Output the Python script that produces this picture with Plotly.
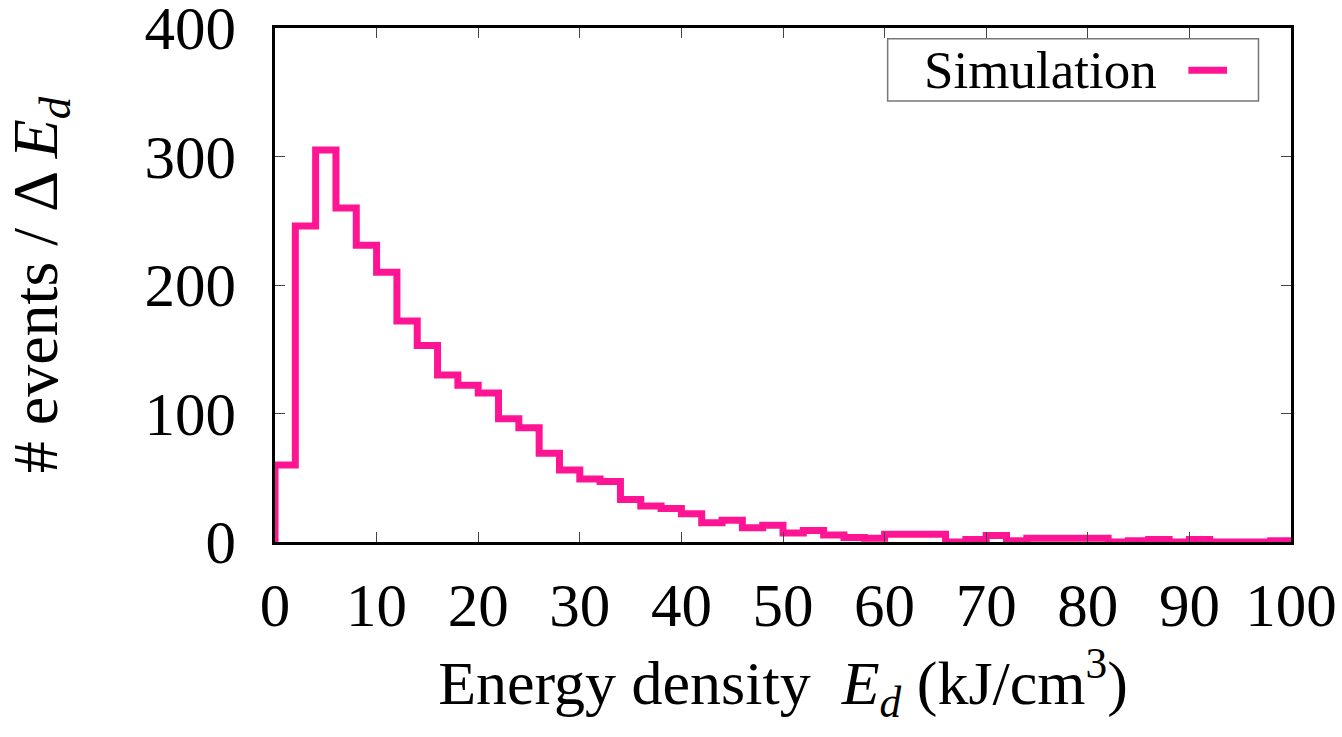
import plotly.graph_objects as go

# Histogram of deposited energy density, 2 kJ/cm^3 bins from 0 to 100
bin_edges = list(range(0, 102, 2))
counts = [
    60, 246, 305, 260, 231, 210, 172, 153, 130, 122,
    116, 96, 89, 69, 56, 49, 47, 33, 28, 26,
    22, 15, 17, 11, 13, 7, 9, 5.5, 3.5, 3,
    6, 6, 6, 0, 2, 5, 1, 3, 3, 3,
    3, 0, 1, 2, 0, 2, 0, 0, 0, 1,
]
x_ticks = list(range(0, 101, 10))
y_ticks = [0, 100, 200, 300, 400]

series_name = "Simulation"
pink = "#ff1493"
font_family = "Liberation Serif"

# Step outline: rise from zero at the first edge, then one level per bin
step_x = [bin_edges[0]] + bin_edges
step_y = [0] + counts + [counts[-1]]

fig = go.Figure()
fig.add_trace(go.Scatter(
    x=step_x,
    y=step_y,
    mode="lines",
    line=dict(color=pink, width=7, shape="hv"),
    name=series_name,
    showlegend=False,
    hoverinfo="skip",
))

axis_common = dict(
    showgrid=False,
    zeroline=False,
    showline=True,
    linecolor="black",
    linewidth=2.5,
    mirror="allticks",
    ticks="inside",
    ticklen=10,
    tickwidth=1,
    tickcolor="#444",
    automargin=False,
    ticklabeloverflow="allow",
    tickfont=dict(family=font_family, size=61, color="black"),
)

fig.update_xaxes(
    range=[0, 100],
    tickvals=x_ticks,
    ticklabelstandoff=8,
    title=dict(
        text="Energy density  <i>E<sub>d</sub></i> (kJ/cm<sup>3</sup>)",
        font=dict(family=font_family, size=62, color="black"),
        standoff=22,
    ),
    **axis_common,
)
fig.update_yaxes(
    range=[0, 400],
    tickvals=y_ticks,
    ticklabelstandoff=24,
    title=dict(
        text="# events / Δ <i>E<sub>d</sub></i>",
        font=dict(family=font_family, size=64, color="black"),
        standoff=70,
    ),
    **axis_common,
)

# Legend box with the label on the left and the line sample on the right
fig.add_shape(
    type="rect", xref="paper", yref="paper",
    x0=0.603, x1=0.968, y0=0.858, y1=0.979,
    line=dict(color="#777", width=1.5), fillcolor="white", layer="above",
)
fig.add_annotation(
    text=series_name, xref="paper", yref="paper",
    x=0.8705, y=0.918, xanchor="right", yanchor="middle",
    showarrow=False,
    font=dict(family=font_family, size=53, color="black"),
)
fig.add_shape(
    type="line", xref="paper", yref="paper",
    x0=0.899, x1=0.937, y0=0.918, y1=0.918,
    line=dict(color=pink, width=7), layer="above",
)

fig.update_layout(
    width=1342,
    height=737,
    margin=dict(l=275, r=51, t=28, b=195),
    paper_bgcolor="white",
    plot_bgcolor="white",
    showlegend=False,
)

fig.write_html("out.html")
